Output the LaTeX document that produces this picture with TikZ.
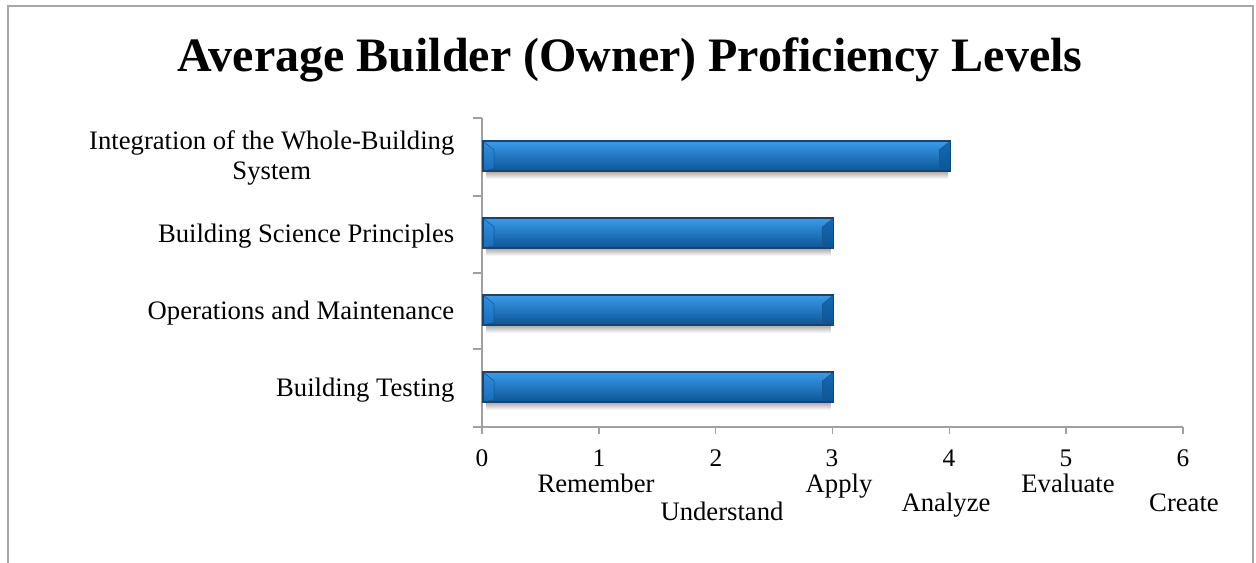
\documentclass[tikz,border=0pt]{standalone}
\usepackage{fontspec}
\setmainfont{Liberation Serif}
\definecolor{framegray}{HTML}{A6A6A6}
\definecolor{axisgray}{HTML}{A0A0A0}
\definecolor{barlight}{HTML}{3C9BEA}
\definecolor{barmid}{HTML}{1C72C2}
\definecolor{bardark}{HTML}{0A5596}
\definecolor{baredge}{HTML}{17456F}
\begin{document}
\begin{tikzpicture}[x=0.75pt,y=-0.75pt,
  axisline/.style={draw=axisgray,line width=1.1pt},
  catlabel/.style={font=\fontsize{20}{22.5}\selectfont,align=center},
  ticklabel/.style={font=\fontsize{19}{21}\selectfont,anchor=base},
  levellabel/.style={font=\fontsize{20}{22.5}\selectfont,anchor=base}]
\useasboundingbox (0,0) rectangle (1256,563);
% chart frame
\draw[draw=framegray,line width=1.5pt] (8,600) -- (8,6) -- (1253,6) -- (1253,600);
\node[font=\bfseries\fontsize{36}{40}\selectfont,anchor=base] (title) at (630,72) {Average Builder (Owner) Proficiency Levels};
% axes
\path[axisline] (482,118) -- (482,427) -- (1183,427);
\foreach \y in {118,196,273,349,427}
  \path[axisline] (473,\y) -- (482,\y);
\foreach \x in {0,...,6}
  \path[axisline] (482+116.83*\x,427) -- (482+116.83*\x,434);
% bars
\foreach \yc/\v in {156/4,233/3,310/3,387/3}{
  \pgfmathsetmacro{\xe}{483+116.83*\v}
  \shade[top color=black!35,bottom color=white] (486,\yc+15) rectangle (\xe-3,\yc+23);
  \shade[top color=barlight,middle color=barmid,bottom color=bardark] (483,\yc-15) rectangle (\xe,\yc+15);
  \shade[top color=barlight!70!barmid,bottom color=barmid!80!bardark] (483,\yc-15) -- (494,\yc-6) -- (494,\yc+12) -- (483,\yc+15) -- cycle;
  \shade[top color=barmid!70!bardark,bottom color=bardark] (\xe,\yc-15) -- (\xe-11,\yc-6) -- (\xe-11,\yc+12) -- (\xe,\yc+15) -- cycle;
  \draw[baredge!60!barmid,line width=0.4pt] (483,\yc-15) -- (494,\yc-6) -- (494,\yc+12);
  \draw[baredge!60!barmid,line width=0.4pt] (\xe,\yc-15) -- (\xe-11,\yc-6) -- (\xe-11,\yc+12);
  \draw[baredge,line width=0.8pt] (483,\yc-15) rectangle (\xe,\yc+15);
}
% category labels
\node[catlabel,anchor=east] (integration) at (459,158) {Integration of the Whole-Building\\System};
\node[catlabel,anchor=base east] (science) at (459,242) {Building Science Principles};
\node[catlabel,anchor=base east] (operations) at (459,319) {Operations and Maintenance};
\node[catlabel,anchor=base east] (testing) at (459,396) {Building Testing};
% value labels
\node[ticklabel] (t0) at (482,466) {0};
\node[ticklabel] (t1) at (599,466) {1};
\node[ticklabel] (t2) at (716,466) {2};
\node[ticklabel] (t3) at (832,466) {3};
\node[ticklabel] (t4) at (949,466) {4};
\node[ticklabel] (t5) at (1066,466) {5};
\node[ticklabel] (t6) at (1183,466) {6};
% level names
\node[levellabel] (remember) at (596,492) {Remember};
\node[levellabel] (understand) at (722,520) {Understand};
\node[levellabel] (apply) at (839,492) {Apply};
\node[levellabel] (analyze) at (946,511) {Analyze};
\node[levellabel] (evaluate) at (1068,492) {Evaluate};
\node[levellabel] (create) at (1184,511) {Create};
\end{tikzpicture}
\end{document}
